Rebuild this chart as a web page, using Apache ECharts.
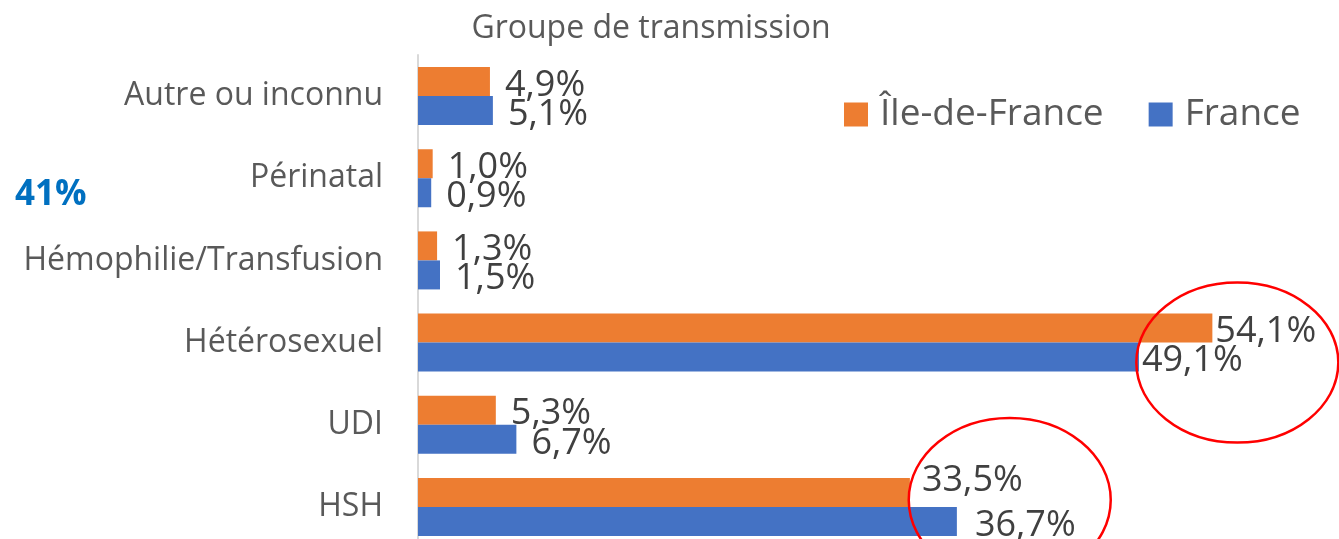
<!DOCTYPE html>
<html><head><meta charset="utf-8">
<script src="https://cdn.jsdelivr.net/npm/echarts@6/dist/echarts.min.js"></script>
<style>html,body{margin:0;padding:0;background:#fff;overflow:hidden}#c{width:1339px;height:539px}</style>
</head><body><div id="c"></div>
<script>
const categories = ['Autre ou inconnu', 'Périnatal', 'Hémophilie/Transfusion', 'Hétérosexuel', 'UDI', 'HSH'];
const idfValues = [4.9, 1.0, 1.3, 54.1, 5.3, 33.5];
const franceValues = [5.1, 0.9, 1.5, 49.1, 6.7, 36.7];
const seriesNames = ['Île-de-France', 'France'];
const titleText = 'Groupe de transmission';
const sideNote = '41%';

const FONT = '"Open Sans", sans-serif';
const chart = echarts.init(document.getElementById('c'), null, {renderer: 'canvas'});
const fmt = p => p.value.toFixed(1).replace('.', ',') + '%';
const labelCfg = {show: true, position: 'right', distance: 15, offset: [0, 4], formatter: fmt, color: '#404040', fontSize: 36, fontFamily: FONT};
// label placement tweaks (style only), keyed by category index
const idfLabelTweaks = {3: {distance: 3}, 5: {distance: 12, offset: [0, -12]}};
const frLabelTweaks = {3: {distance: 3}, 5: {distance: 18}};
const build = (vals, tweaks) => vals.map((v, i) => tweaks[i] ? {value: v, label: tweaks[i]} : v);

chart.setOption({
  animation: false,
  title: {text: titleText, left: 646, top: 8, textAlign: 'center', textStyle: {color: '#595959', fontSize: 32, fontWeight: 'normal', fontFamily: FONT}},
  legend: {data: seriesNames, left: 839, top: 91, itemWidth: 24, itemHeight: 24, itemGap: 45, icon: 'rect',
    textStyle: {color: '#595959', fontSize: 37, fontFamily: FONT, padding: [0, 0, 0, 7]}},
  grid: {left: 418, top: 55, width: 881, height: 493, outerBoundsMode: 'none', containLabel: false},
  xAxis: {type: 'value', min: 0, max: 60, show: false},
  yAxis: {type: 'category', data: categories, inverse: true,
    axisLine: {show: true, lineStyle: {color: '#D9D9D9', width: 2}}, axisTick: {show: false},
    axisLabel: {margin: 35, color: '#595959', fontSize: 32, fontFamily: FONT}},
  series: [
    {name: seriesNames[0], type: 'bar', data: build(idfValues, idfLabelTweaks), itemStyle: {color: '#ED7D31'}, barGap: '0%', barCategoryGap: '29.4%', label: labelCfg},
    {name: seriesNames[1], type: 'bar', data: build(franceValues, frLabelTweaks), itemStyle: {color: '#4472C4'}, barGap: '0%', barCategoryGap: '29.4%', label: labelCfg}
  ]
});
// annotation ellipses anchored to data positions
const p1 = chart.convertToPixel({gridIndex: 0}, [55.8, 3]);
const p2 = chart.convertToPixel({gridIndex: 0}, [40.3, 5]);
chart.setOption({graphic: [
  {type: 'text', left: 15, top: 178, style: {text: sideNote, fill: '#0070C0', font: 'bold 35px ' + FONT}},
  {type: 'ellipse', shape: {cx: p1[0], cy: p1[1] + 20, rx: 101, ry: 80}, style: {fill: 'none', stroke: '#FF0000', lineWidth: 2.5}, z: 100},
  {type: 'ellipse', shape: {cx: p2[0], cy: p2[1] - 7, rx: 101, ry: 82}, style: {fill: 'none', stroke: '#FF0000', lineWidth: 2.5}, z: 100}
]});
</script></body></html>
